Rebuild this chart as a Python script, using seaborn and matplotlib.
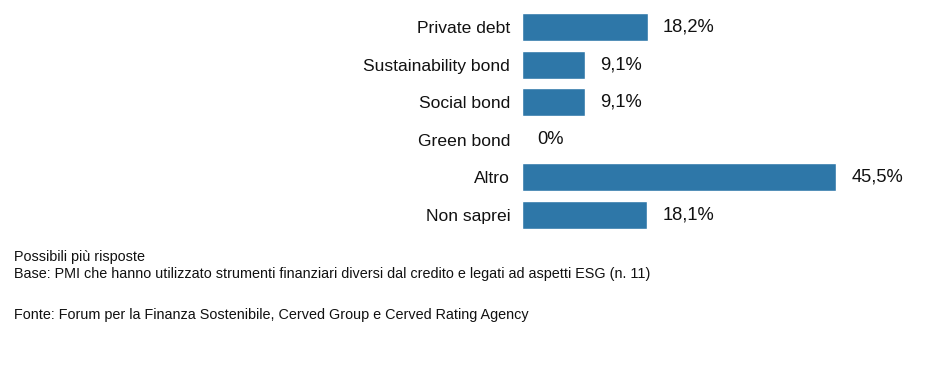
import matplotlib
matplotlib.use("Agg")
import matplotlib.pyplot as plt
import seaborn as sns
import pandas as pd

categories = ["Private debt", "Sustainability bond", "Social bond", "Green bond", "Altro", "Non saprei"]
values = [18.2, 9.1, 9.1, 0.0, 45.5, 18.1]
value_labels = ["18,2%", "9,1%", "9,1%", "0%", "45,5%", "18,1%"]

notes = [
    "Possibili più risposte",
    "Base: PMI che hanno utilizzato strumenti finanziari diversi dal credito e legati ad aspetti ESG (n. 11)",
]
source = "Fonte: Forum per la Finanza Sostenibile, Cerved Group e Cerved Rating Agency"

sns.set_theme(style="white")
plt.rcParams["font.family"] = ["Liberation Sans Narrow", "Liberation Sans", "DejaVu Sans"]

df = pd.DataFrame({"categoria": categories, "valore": values})

fig = plt.figure(figsize=(9.4, 3.88), dpi=100)
ax = fig.add_axes([0.5553, 0.3974, 0.367, 0.5815])

sns.barplot(data=df, y="categoria", x="valore", orient="h", color="#2E77A8",
            width=0.745, saturation=1, ax=ax)

ax.set_xlim(0, 50)
ax.set_ylim(5.5, -0.5)
ax.set_xlabel("")
ax.set_ylabel("")
ax.set_xticks([])
ax.tick_params(axis="y", length=0, pad=8.5, labelsize=12.6, labelcolor="#111111")
sns.despine(ax=ax, left=True, bottom=True)

ax.bar_label(ax.containers[0], labels=value_labels, padding=11, fontsize=13.2, color="#111111")

foot = ["Liberation Sans", "DejaVu Sans"]
fig.text(0.015, 1 - 257 / 388, notes[0], fontsize=10.4, family=foot, va="center", color="#111111")
fig.text(0.015, 1 - 274 / 388, notes[1], fontsize=10.4, family=foot, va="center", color="#111111")
fig.text(0.015, 1 - 315 / 388, source, fontsize=10.4, family=foot, va="center", color="#111111")

fig.savefig("out.png", dpi=100, facecolor="white")
